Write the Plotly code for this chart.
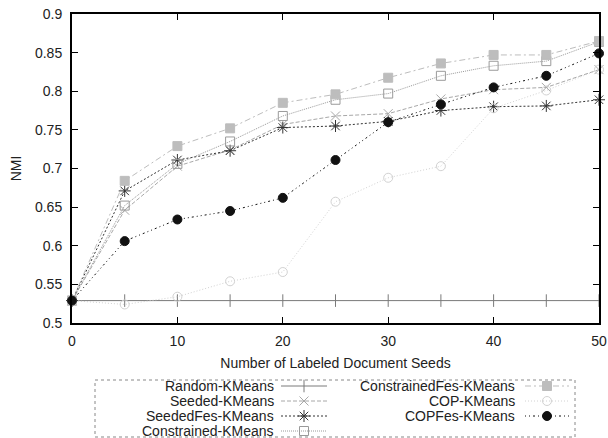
import plotly.graph_objects as go

# Number of labeled document seeds
seeds = [0, 5, 10, 15, 20, 25, 30, 35, 40, 45, 50]

# NMI per method
random_kmeans = [0.529, 0.529, 0.529, 0.529, 0.529, 0.529, 0.529, 0.529, 0.529, 0.529, 0.529]
seeded_kmeans = [0.529, 0.646, 0.703, 0.724, 0.757, 0.768, 0.771, 0.790, 0.802, 0.805, 0.828]
seededfes_kmeans = [0.529, 0.671, 0.711, 0.723, 0.753, 0.755, 0.761, 0.775, 0.780, 0.781, 0.789]
constrained_kmeans = [0.529, 0.652, 0.706, 0.735, 0.768, 0.789, 0.797, 0.820, 0.833, 0.839, 0.864]
constrainedfes_kmeans = [0.529, 0.684, 0.729, 0.752, 0.785, 0.796, 0.8175, 0.836, 0.847, 0.847, 0.865]
cop_kmeans = [0.529, 0.524, 0.534, 0.554, 0.566, 0.657, 0.688, 0.703, 0.778, 0.801, 0.828]
copfes_kmeans = [0.529, 0.606, 0.634, 0.645, 0.662, 0.711, 0.760, 0.783, 0.805, 0.820, 0.849]

x_ticks = [0, 10, 20, 30, 40, 50]
y_ticks = [0.5, 0.55, 0.6, 0.65, 0.7, 0.75, 0.8, 0.85, 0.9]
y_tick_text = ["0.5", "0.55", "0.6", "0.65", "0.7", "0.75", "0.8", "0.85", "0.9"]

FONT = "Liberation Sans, Arial, Helvetica, sans-serif"
TEXT = "#222222"

# name, values, line colour, dash, marker symbol, marker size, legend column/row
series = [
    ("Random-KMeans", random_kmeans, "#7a7a7a", "solid", "line-ns", 9, 0, 0),
    ("Seeded-KMeans", seeded_kmeans, "#a8a8a8", "4px,2px", "x-thin", 9, 0, 1),
    ("SeededFes-KMeans", seededfes_kmeans, "#333333", "2px,2px", "asterisk", 10, 0, 2),
    ("Constrained-KMeans", constrained_kmeans, "#9a9a9a", "1px,1px", "square-open", 9, 0, 3),
    ("ConstrainedFes-KMeans", constrainedfes_kmeans, "#bdbdbd", "6px,3px,2px,3px", "square", 9, 1, 0),
    ("COP-KMeans", cop_kmeans, "#d2d2d2", "1px,2px", "circle-open", 9, 1, 1),
    ("COPFes-KMeans", copfes_kmeans, "#111111", "1px,3px,1px,3px,2px,3px", "circle", 9, 1, 2),
]

fig = go.Figure()

for name, vals, color, dash, symbol, size, _, _ in series:
    fig.add_trace(go.Scatter(
        x=seeds, y=vals, mode="lines+markers", name=name,
        line=dict(color=color, width=1, dash=dash),
        marker=dict(symbol=symbol, size=size, color=color,
                    line=dict(color=color, width=1)),
        cliponaxis=False, showlegend=False,
        xaxis="x", yaxis="y",
    ))

# Key drawn in a pixel-scaled overlay axis below the plot
col_text_right = [276, 517]
col_sample = [(281, 327), (525, 569)]
row_y = [386, 401, 416, 431]

annotations = []
for name, vals, color, dash, symbol, size, col, row in series:
    x0, x1 = col_sample[col]
    yy = row_y[row]
    fig.add_trace(go.Scatter(
        x=[x0, x1], y=[yy, yy], mode="lines",
        line=dict(color=color, width=1, dash=dash),
        cliponaxis=False, showlegend=False, hoverinfo="skip",
        xaxis="x2", yaxis="y2",
    ))
    fig.add_trace(go.Scatter(
        x=[(x0 + x1) / 2], y=[yy], mode="markers",
        marker=dict(symbol=symbol, size=size, color=color,
                    line=dict(color=color, width=1)),
        cliponaxis=False, showlegend=False, hoverinfo="skip",
        xaxis="x2", yaxis="y2",
    ))
    annotations.append(dict(
        x=col_text_right[col], y=yy, xref="x2", yref="y2",
        text=name, showarrow=False, xanchor="right", yanchor="middle",
        font=dict(family=FONT, size=14, color=TEXT),
    ))

W, H = 608, 438
L, R, T, B = 72, 9, 14, 0
plot_bottom = 323
split = (H - plot_bottom) / (H - T - B)

axis_common = dict(
    showline=True, linecolor="black", linewidth=2, mirror="ticks",
    ticks="inside", ticklen=6, tickwidth=1, tickcolor="black",
    showgrid=False, zeroline=False, automargin=False,
    tickfont=dict(family=FONT, size=14, color=TEXT),
)

fig.update_layout(
    width=W, height=H,
    margin=dict(l=L, r=R, t=T, b=B, autoexpand=False),
    paper_bgcolor="white", plot_bgcolor="rgba(0,0,0,0)",
    xaxis=dict(
        domain=[0, 1], range=[0, 50], tickvals=x_ticks,
        anchor="y", ticklabelstandoff=4,
        title=dict(text="Number of Labeled Document Seeds",
                   font=dict(family=FONT, size=14, color=TEXT), standoff=10),
        **axis_common,
    ),
    yaxis=dict(
        domain=[split, 1], range=[0.5, 0.9], tickvals=y_ticks,
        ticktext=y_tick_text, anchor="x", ticklabelstandoff=5,
        title=dict(text="NMI", font=dict(family=FONT, size=14, color=TEXT),
                   standoff=10),
        **axis_common,
    ),
    xaxis2=dict(domain=[0, 1], range=[L, W - R], visible=False,
                anchor="y2", fixedrange=True, automargin=False),
    yaxis2=dict(domain=[0, split], range=[H, plot_bottom], visible=False,
                anchor="x2", fixedrange=True, automargin=False),
    shapes=[dict(
        type="rect", xref="x2", yref="y2", x0=95, x1=575, y0=380, y1=437,
        line=dict(color="#888888", width=1, dash="dot"),
    )],
    annotations=annotations,
    font=dict(family=FONT, size=14, color=TEXT),
)

fig.write_html("out.html")
